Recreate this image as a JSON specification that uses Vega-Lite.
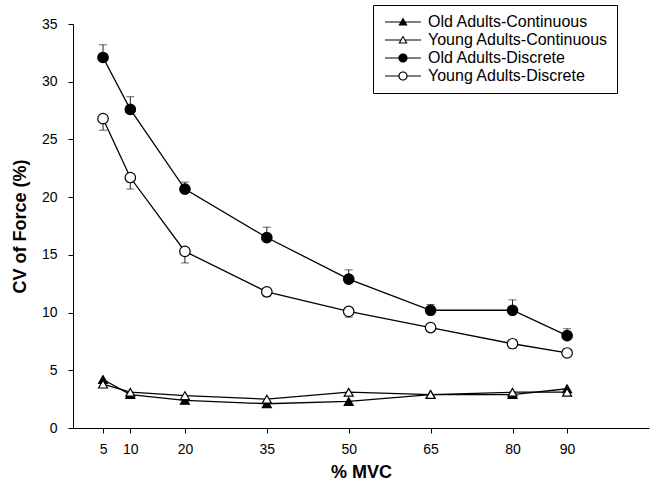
{
  "$schema": "https://vega.github.io/schema/vega-lite/v6.json",
  "autosize": {"type": "none"},
  "padding": {"left": 73, "top": 24, "right": 2, "bottom": 56},
  "width": 576,
  "height": 404,
  "background": "white",
  "config": {
    "view": {"stroke": null},
    "font": "Liberation Sans",
    "axis": {"domainColor": "black", "tickColor": "black", "labelColor": "black", "titleColor": "black", "grid": false, "tickSize": 5, "labelFontSize": 14, "titleFontSize": 18, "titleFontWeight": "bold", "labelFont": "Liberation Sans", "titleFont": "Liberation Sans"},
    "legend": {
      "title": null, "orient": "none", "legendX": 300, "legendY": -19,
      "strokeColor": "black", "fillColor": "white", "padding": 9, "rowPadding": 2,
      "symbolSize": 64, "symbolOffset": 13, "labelOffset": 17, "labelLimit": 300, "labelFontSize": 16, "labelColor": "black", "labelFont": "Liberation Sans",
      "symbolStrokeWidth": 0, "symbolOpacity": 1, "symbolFillColor": "black"
    }
  },
  "data": {
    "values": [
      {"series": "Old Adults-Continuous", "age": "Old", "task": "Continuous", "mvc": 5, "cv": 4.2},
      {"series": "Old Adults-Continuous", "age": "Old", "task": "Continuous", "mvc": 10, "cv": 2.9},
      {"series": "Old Adults-Continuous", "age": "Old", "task": "Continuous", "mvc": 20, "cv": 2.4},
      {"series": "Old Adults-Continuous", "age": "Old", "task": "Continuous", "mvc": 35, "cv": 2.1},
      {"series": "Old Adults-Continuous", "age": "Old", "task": "Continuous", "mvc": 50, "cv": 2.3},
      {"series": "Old Adults-Continuous", "age": "Old", "task": "Continuous", "mvc": 65, "cv": 2.9},
      {"series": "Old Adults-Continuous", "age": "Old", "task": "Continuous", "mvc": 80, "cv": 2.9},
      {"series": "Old Adults-Continuous", "age": "Old", "task": "Continuous", "mvc": 90, "cv": 3.4},
      {"series": "Young Adults-Continuous", "age": "Young", "task": "Continuous", "mvc": 5, "cv": 3.8},
      {"series": "Young Adults-Continuous", "age": "Young", "task": "Continuous", "mvc": 10, "cv": 3.1},
      {"series": "Young Adults-Continuous", "age": "Young", "task": "Continuous", "mvc": 20, "cv": 2.8},
      {"series": "Young Adults-Continuous", "age": "Young", "task": "Continuous", "mvc": 35, "cv": 2.5},
      {"series": "Young Adults-Continuous", "age": "Young", "task": "Continuous", "mvc": 50, "cv": 3.1},
      {"series": "Young Adults-Continuous", "age": "Young", "task": "Continuous", "mvc": 65, "cv": 2.9},
      {"series": "Young Adults-Continuous", "age": "Young", "task": "Continuous", "mvc": 80, "cv": 3.1},
      {"series": "Young Adults-Continuous", "age": "Young", "task": "Continuous", "mvc": 90, "cv": 3.1},
      {"series": "Old Adults-Discrete", "age": "Old", "task": "Discrete", "mvc": 5, "cv": 32.1, "errEnd": 33.2},
      {"series": "Old Adults-Discrete", "age": "Old", "task": "Discrete", "mvc": 10, "cv": 27.6, "errEnd": 28.7},
      {"series": "Old Adults-Discrete", "age": "Old", "task": "Discrete", "mvc": 20, "cv": 20.7, "errEnd": 21.3},
      {"series": "Old Adults-Discrete", "age": "Old", "task": "Discrete", "mvc": 35, "cv": 16.5, "errEnd": 17.4},
      {"series": "Old Adults-Discrete", "age": "Old", "task": "Discrete", "mvc": 50, "cv": 12.9, "errEnd": 13.7},
      {"series": "Old Adults-Discrete", "age": "Old", "task": "Discrete", "mvc": 65, "cv": 10.2, "errEnd": 10.7},
      {"series": "Old Adults-Discrete", "age": "Old", "task": "Discrete", "mvc": 80, "cv": 10.2, "errEnd": 11.1},
      {"series": "Old Adults-Discrete", "age": "Old", "task": "Discrete", "mvc": 90, "cv": 8.0, "errEnd": 8.6},
      {"series": "Young Adults-Discrete", "age": "Young", "task": "Discrete", "mvc": 5, "cv": 26.8, "errEnd": 25.8},
      {"series": "Young Adults-Discrete", "age": "Young", "task": "Discrete", "mvc": 10, "cv": 21.7, "errEnd": 20.7},
      {"series": "Young Adults-Discrete", "age": "Young", "task": "Discrete", "mvc": 20, "cv": 15.3, "errEnd": 14.3},
      {"series": "Young Adults-Discrete", "age": "Young", "task": "Discrete", "mvc": 35, "cv": 11.8, "errEnd": 11.4},
      {"series": "Young Adults-Discrete", "age": "Young", "task": "Discrete", "mvc": 50, "cv": 10.1, "errEnd": 9.6},
      {"series": "Young Adults-Discrete", "age": "Young", "task": "Discrete", "mvc": 65, "cv": 8.7, "errEnd": 8.4},
      {"series": "Young Adults-Discrete", "age": "Young", "task": "Discrete", "mvc": 80, "cv": 7.3, "errEnd": 6.9},
      {"series": "Young Adults-Discrete", "age": "Young", "task": "Discrete", "mvc": 90, "cv": 6.5, "errEnd": 6.2}
    ]
  },
  "encoding": {
    "x": {"field": "mvc", "type": "quantitative", "scale": {"domain": [-0.5, 105], "nice": false, "zero": false},
      "axis": {"values": [5, 10, 20, 35, 50, 65, 80, 90], "title": "% MVC", "labelPadding": 9, "titlePadding": 7}},
    "y": {"field": "cv", "type": "quantitative", "scale": {"domain": [0, 35], "nice": false},
      "axis": {"values": [0, 5, 10, 15, 20, 25, 30, 35], "title": "CV of Force (%)", "labelPadding": 11, "titlePadding": 12}}
  },
  "layer": [
    {
      "transform": [{"filter": "isValid(datum.errEnd)"}],
      "mark": {"type": "rule", "color": "#222", "strokeWidth": 1},
      "encoding": {"y2": {"field": "errEnd"}}
    },
    {
      "transform": [{"filter": "isValid(datum.errEnd)"}],
      "mark": {"type": "tick", "orient": "horizontal", "color": "#222", "size": 8, "thickness": 1},
      "encoding": {"y": {"field": "errEnd", "type": "quantitative"}}
    },
    {
      "mark": {"type": "line", "color": "black", "strokeWidth": 1.3},
      "encoding": {"detail": {"field": "series"}}
    },
    {
      "transform": [{"filter": "datum.task == 'Continuous'"}],
      "mark": {"type": "point", "shape": "triangle-up", "size": 80, "filled": true, "stroke": "black", "strokeWidth": 1.2, "opacity": 1},
      "encoding": {
        "fill": {"field": "age", "type": "nominal", "scale": {"domain": ["Old", "Young"], "range": ["black", "white"]}, "legend": null}
      }
    },
    {
      "transform": [{"filter": "datum.task == 'Discrete'"}],
      "mark": {"type": "point", "shape": "circle", "size": 110, "filled": true, "stroke": "black", "strokeWidth": 1.2, "opacity": 1},
      "encoding": {
        "fill": {"field": "age", "type": "nominal", "legend": null}
      }
    },
    {
      "transform": [{"filter": "datum.mvc > 1000"}],
      "mark": {"type": "point", "filled": true, "color": "black", "opacity": 1},
      "encoding": {
        "shape": {"field": "series", "type": "nominal",
          "scale": {"domain": ["Old Adults-Continuous", "Young Adults-Continuous", "Old Adults-Discrete", "Young Adults-Discrete"],
            "range": [
              "M-4.5,-0.15H-0.5V0.15H-4.5Z M0.5,-0.15H4.5V0.15H0.5Z M0,-1.15L1.15,0.85L-1.15,0.85Z",
              "M-4.5,-0.15H-0.62V0.15H-4.5Z M0.62,-0.15H4.5V0.15H0.62Z M0,-1.15L1.15,0.85L-1.15,0.85Z M0,-0.6L-0.68,0.6L0.68,0.6Z",
              "M-4.5,-0.15H-1V0.15H-4.5Z M1,-0.15H4.5V0.15H1Z M-1.15,0A1.15,1.15 0 1,1 1.15,0A1.15,1.15 0 1,1 -1.15,0Z",
              "M-4.5,-0.15H-1.1V0.15H-4.5Z M1.1,-0.15H4.5V0.15H1.1Z M-1.15,0A1.15,1.15 0 1,1 1.15,0A1.15,1.15 0 1,1 -1.15,0Z M-0.85,0A0.85,0.85 0 1,0 0.85,0A0.85,0.85 0 1,0 -0.85,0Z"
            ]}}
      }
    }
  ]
}
